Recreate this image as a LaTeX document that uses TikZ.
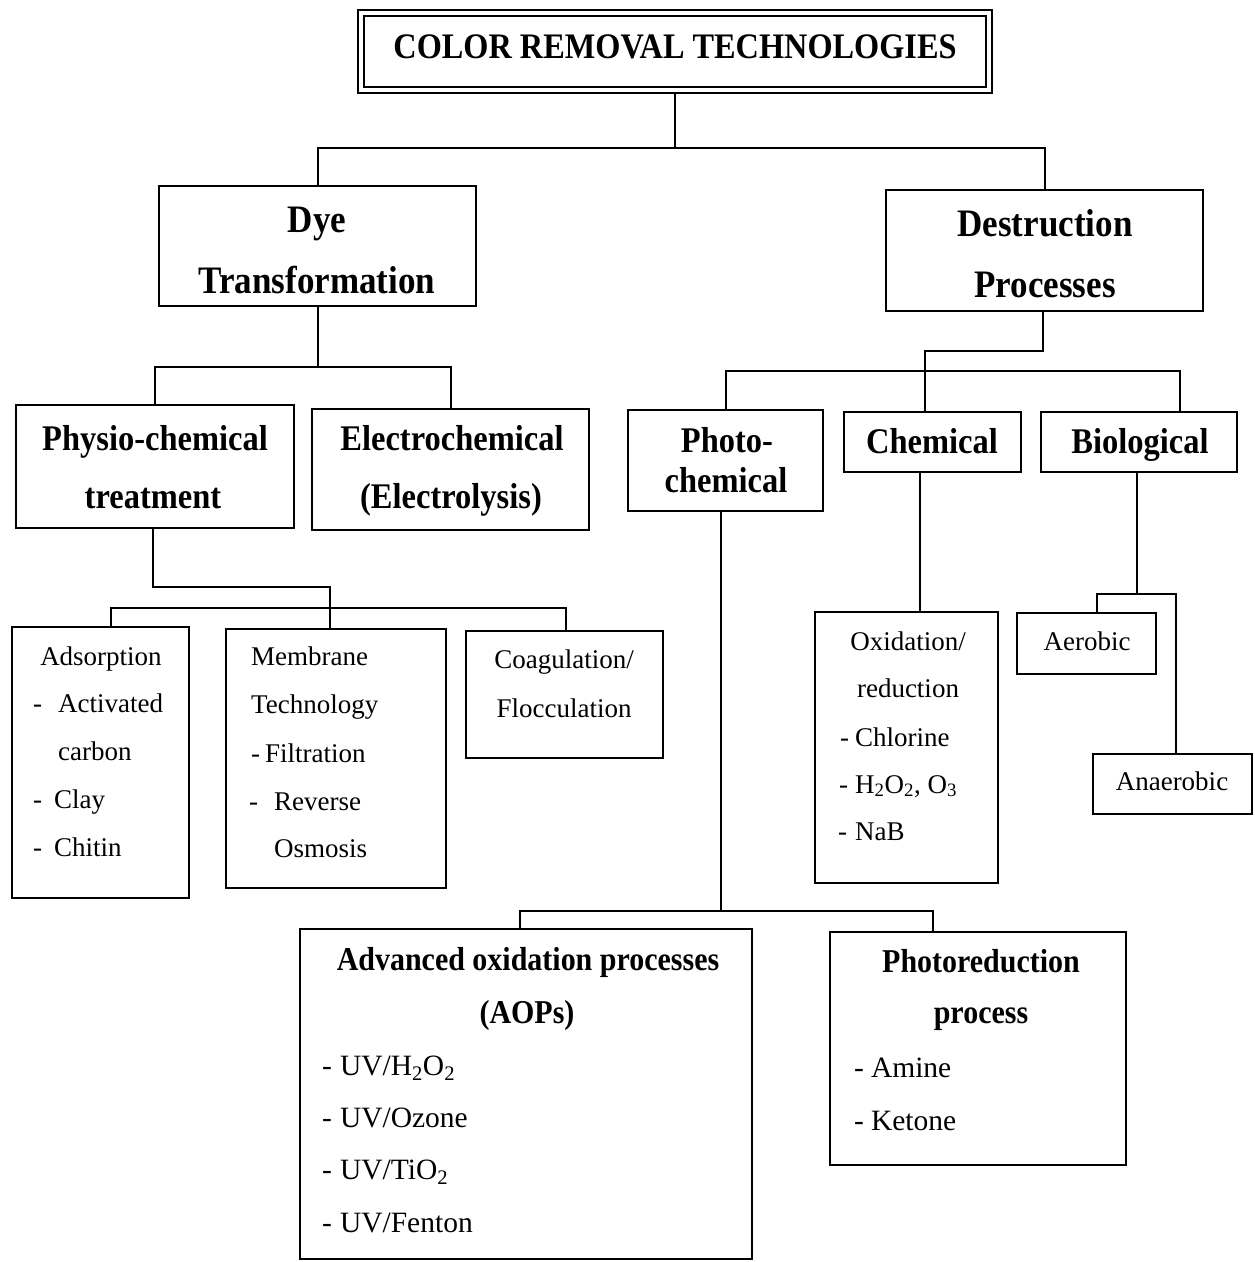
\documentclass[tikz,border=0pt]{standalone}
\usepackage{fontspec}
\setmainfont{Liberation Serif}[BoldFeatures={FakeStretch=0.9}]
\usetikzlibrary{fit}
\tikzset{
  box/.style={draw, line width=2.2pt, inner sep=0pt},
  conn/.style={line width=2pt},
  tc/.style={inner sep=0pt, anchor=base},
  tl/.style={inner sep=0pt, anchor=base west},
  ft/.style={font=\fontsize{35.9}{40}\selectfont\bfseries},
  fb/.style={font=\fontsize{38.9}{44}\selectfont\bfseries},
  fm/.style={font=\fontsize{36.1}{40}\selectfont\bfseries},
  fs/.style={font=\fontsize{33.3}{37}\selectfont\bfseries},
  fr/.style={font=\fontsize{27}{31}\selectfont},
  fl/.style={font=\fontsize{29.5}{33}\selectfont},
}
\begin{document}
\begin{tikzpicture}[x=1pt,y=-1pt]
\useasboundingbox (0,0) rectangle (1255,1262);

% boxes
\node[draw, line width=2.8pt, inner sep=0pt, fit={(358,10)(992,93)}] (title) {};
\node[draw, line width=1.6pt, inner sep=0pt, fit={(364,16)(986,87)}] (titlein) {};
\node[box, fit={(159,186)(476,306)}] (dye) {};
\node[box, fit={(886,190)(1203,311)}] (destr) {};
\node[box, fit={(16,405)(294,528)}] (physio) {};
\node[box, fit={(312,409)(589,530)}] (electro) {};
\node[box, fit={(628,410)(823,511)}] (photo) {};
\node[box, fit={(844,412)(1021,472)}] (chem) {};
\node[box, fit={(1041,412)(1237,472)}] (bio) {};
\node[box, fit={(12,627)(189,898)}] (ads) {};
\node[box, fit={(226,629)(446,888)}] (memb) {};
\node[box, fit={(466,631)(663,758)}] (coag) {};
\node[box, fit={(815,612)(998,883)}] (oxid) {};
\node[box, fit={(1017,613)(1156,674)}] (aer) {};
\node[box, fit={(1093,754)(1252,814)}] (anaer) {};
\node[box, fit={(300,929)(752,1259)}] (aop) {};
\node[box, fit={(830,932)(1126,1165)}] (photored) {};

% texts
\node[tc, ft] (ttitle) at (675,58) {COLOR REMOVAL TECHNOLOGIES};
\node[tc, fb] (tdye1) at (317,232) {Dye};
\node[tc, fb] (tdye2) at (317,293) {Transformation};
\node[tc, fb] (tdes1) at (1045,236) {Destruction};
\node[tc, fb] (tdes2) at (1045,297) {Processes};
\node[tc, fm] (tphy1) at (155,450) {Physio-chemical};
\node[tc, fm] (tphy2) at (153,508) {treatment};
\node[tc, fm] (tele1) at (452,450) {Electrochemical};
\node[tc, fm] (tele2) at (451,508) {(Electrolysis)};
\node[tc, fm] (tpho1) at (727,452) {Photo-};
\node[tc, fm] (tpho2) at (726,492) {chemical};
\node[tc, fm] (tchem) at (932,453) {Chemical};
\node[tc, fm] (tbio) at (1140,453) {Biological};

\node[tc, fr] (tads0) at (101,665) {Adsorption};
\node[tl, fr] (tads1) at (33,712) {-\hspace{16pt}Activated};
\node[tl, fr] (tads2) at (58,760) {carbon};
\node[tl, fr] (tads3) at (33,808) {-\hspace{12pt}Clay};
\node[tl, fr] (tads4) at (33,856) {-\hspace{12pt}Chitin};

\node[tl, fr] (tmem0) at (251,665) {Membrane};
\node[tl, fr] (tmem1) at (251,713) {Technology};
\node[tl, fr] (tmem2) at (251,762) {-\hspace{5pt}Filtration};
\node[tl, fr] (tmem3) at (249,810) {-\hspace{16pt}Reverse};
\node[tl, fr] (tmem4) at (274,857) {Osmosis};

\node[tc, fr] (tcoa1) at (564,668) {Coagulation/};
\node[tc, fr] (tcoa2) at (564,717) {Flocculation};

\node[tc, fr] (toxi1) at (908,650) {Oxidation/};
\node[tc, fr] (toxi2) at (908,697) {reduction};
\node[tl, fr] (toxi3) at (840,746) {-\hspace{6pt}Chlorine};
\node[tl, fr] (toxi4) at (839,793) {-\hspace{7pt}H\textsubscript{2}O\textsubscript{2}, O\textsubscript{3}};
\node[tl, fr] (toxi5) at (838,840) {-\hspace{8pt}NaB};

\node[tc, fr] (taer) at (1087,650) {Aerobic};
\node[tc, fr] (tana) at (1172,790) {Anaerobic};

\node[tc, fs] (taop1) at (528,970) {Advanced oxidation processes};
\node[tc, fs] (taop2) at (527,1023) {(AOPs)};
\node[tl, fl] (taop3) at (322,1075) {-\hspace{8pt}UV/H\textsubscript{2}O\textsubscript{2}};
\node[tl, fl] (taop4) at (322,1127) {-\hspace{8pt}UV/Ozone};
\node[tl, fl] (taop5) at (322,1179) {-\hspace{8pt}UV/TiO\textsubscript{2}};
\node[tl, fl] (taop6) at (322,1232) {-\hspace{8pt}UV/Fenton};

\node[tc, fs] (tpr1) at (981,972) {Photoreduction};
\node[tc, fs] (tpr2) at (981,1023) {process};
\node[tl, fl] (tpr3) at (854,1077) {-\hspace{7pt}Amine};
\node[tl, fl] (tpr4) at (854,1130) {-\hspace{7pt}Ketone};

% connectors
\coordinate (j0) at (675,148);
\draw[conn] (title.south) -- (title.south |- j0);
\draw[conn] (dye.north) |- (j0) -| (destr.north);

\coordinate (j1) at (dye.south |- 0,367);
\draw[conn] (dye.south) -- (j1);
\draw[conn] (physio.north) |- (j1) -| (electro.north);

\coordinate (j2) at (153,587);
\coordinate (j3) at (330,608);
\draw[conn] (j2 |- physio.south) -- (j2) -| (j3 |- memb.north);
\coordinate (j4) at (111,608);
\coordinate (j5) at (566,608);
\draw[conn] (j4 |- ads.north) -- (j4) -- (j5) -- (j5 |- coag.north);

\coordinate (k1) at (1043,351);
\coordinate (k2) at (925,371);
\coordinate (k3) at (1180,371);
\draw[conn] (k1 |- destr.south) -- (k1) -| (k2 |- chem.north);
\draw[conn] (photo.north) |- (k3) -- (k3 |- bio.north);

\coordinate (m1) at (721,911);
\coordinate (m2) at (520,911);
\coordinate (m3) at (933,911);
\draw[conn] (m1 |- photo.south) -- (m1);
\draw[conn] (m2 |- aop.north) -- (m2) -- (m3) -- (m3 |- photored.north);

\coordinate (n1) at (920,540);
\draw[conn] (n1 |- chem.south) -- (n1 |- oxid.north);

\coordinate (b1) at (1137,594);
\coordinate (b2) at (1097,594);
\coordinate (b3) at (1176,594);
\draw[conn] (b1 |- bio.south) -- (b1);
\draw[conn] (b2 |- aer.north) -- (b2) -- (b3) -- (b3 |- anaer.north);
\end{tikzpicture}
\end{document}
